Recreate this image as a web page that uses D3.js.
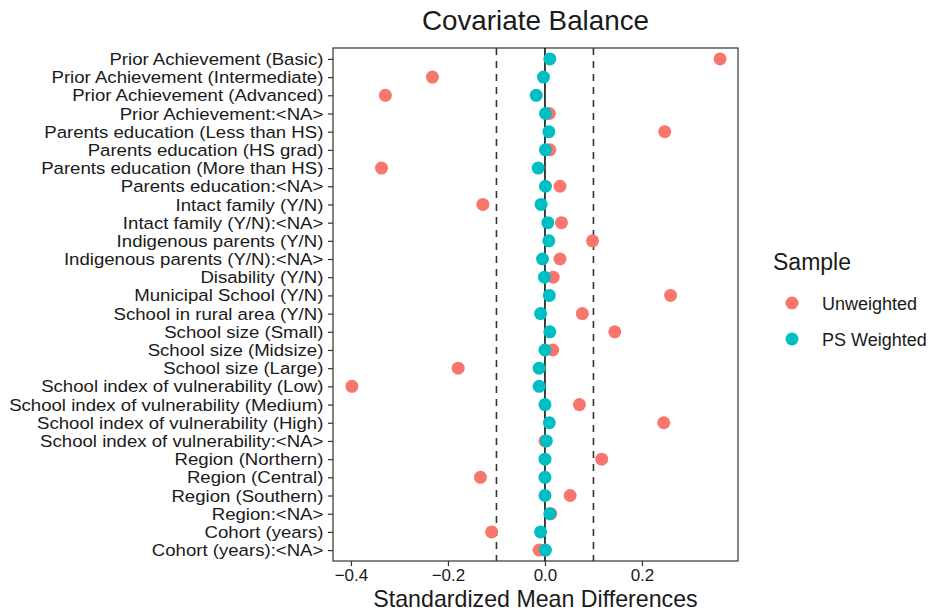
<!DOCTYPE html>
<html>
<head>
<meta charset="utf-8">
<script src="https://cdn.jsdelivr.net/npm/d3@7"></script>
<style>
  body { margin: 0; background: #fff; }
  text { font-family: "Liberation Sans", Arial, sans-serif; fill: #1a1a1a; }
</style>
</head>
<body>
<div id="chart"></div>
<script>
// covariates, top to bottom
const covariates = [
  "Prior Achievement (Basic)",
  "Prior Achievement (Intermediate)",
  "Prior Achievement (Advanced)",
  "Prior Achievement:<NA>",
  "Parents education (Less than HS)",
  "Parents education (HS grad)",
  "Parents education (More than HS)",
  "Parents education:<NA>",
  "Intact family (Y/N)",
  "Intact family (Y/N):<NA>",
  "Indigenous parents (Y/N)",
  "Indigenous parents (Y/N):<NA>",
  "Disability (Y/N)",
  "Municipal School (Y/N)",
  "School in rural area (Y/N)",
  "School size (Small)",
  "School size (Midsize)",
  "School size (Large)",
  "School index of vulnerability (Low)",
  "School index of vulnerability (Medium)",
  "School index of vulnerability (High)",
  "School index of vulnerability:<NA>",
  "Region (Northern)",
  "Region (Central)",
  "Region (Southern)",
  "Region:<NA>",
  "Cohort (years)",
  "Cohort (years):<NA>"
];

const unweighted = [0.361, -0.232, -0.329, 0.009, 0.247, 0.010, -0.337, 0.031,
  -0.128, 0.034, 0.098, 0.031, 0.017, 0.259, 0.077, 0.144, 0.016, -0.179,
  -0.398, 0.071, 0.245, 0.000, 0.117, -0.133, 0.052, 0.012, -0.110, -0.012];

const weighted = [0.010, -0.003, -0.018, 0.001, 0.008, 0.001, -0.014, 0.001,
  -0.008, 0.006, 0.008, -0.005, -0.001, 0.009, -0.009, 0.010, 0.000, -0.012,
  -0.012, 0.000, 0.009, 0.003, 0.000, 0.000, 0.000, 0.010, -0.009, 0.001];

const xTicks = [-0.4, -0.2, 0.0, 0.2];
const thresholds = [-0.1, 0.1];
const samples = ["Unweighted", "PS Weighted"];
const colors = ["#F8766D", "#00BFC4"];

const W = 937, H = 615;
const panel = { left: 333, right: 738, top: 48, bottom: 561 };

const svg = d3.select("#chart").append("svg")
  .attr("width", W).attr("height", H);

const x = d3.scaleLinear().domain([-0.437, 0.398]).range([panel.left, panel.right]);
const y = d3.scalePoint().domain(covariates).range([panel.top, panel.bottom]).padding(0.6);
const color = d3.scaleOrdinal().domain(samples).range(colors);

// panel background + border
svg.append("rect")
  .attr("x", panel.left).attr("y", panel.top)
  .attr("width", panel.right - panel.left)
  .attr("height", panel.bottom - panel.top)
  .attr("fill", "#fff")
  .attr("stroke", "#333").attr("stroke-width", 1.2);

// dashed threshold lines
svg.selectAll("line.thr")
  .data(thresholds)
  .enter().append("line")
  .attr("class", "thr")
  .attr("x1", d => x(d)).attr("x2", d => x(d))
  .attr("y1", panel.top).attr("y2", panel.bottom)
  .attr("stroke", "#333").attr("stroke-width", 1.6)
  .attr("stroke-dasharray", "7,6");

// zero line
svg.append("line")
  .attr("x1", x(0)).attr("x2", x(0))
  .attr("y1", panel.top).attr("y2", panel.bottom)
  .attr("stroke", "#111").attr("stroke-width", 1.6);

// points: unweighted first, weighted on top
const series = [
  { name: "Unweighted", values: unweighted },
  { name: "PS Weighted", values: weighted }
];
series.forEach(s => {
  svg.append("g").selectAll("circle")
    .data(s.values)
    .enter().append("circle")
    .attr("cx", d => x(d))
    .attr("cy", (d, i) => y(covariates[i]))
    .attr("r", 6.5)
    .attr("fill", color(s.name));
});

// x axis
const xAxis = svg.append("g")
  .attr("transform", `translate(0,${panel.bottom})`)
  .call(d3.axisBottom(x).tickValues(xTicks).tickFormat(d3.format(".1f")).tickSize(5).tickPadding(3));
xAxis.select(".domain").remove();
xAxis.selectAll("line").attr("stroke", "#333").attr("stroke-width", 1.2);
xAxis.selectAll("text")
  .attr("font-size", "17px")
  .attr("fill", "#333")
  .style("font-family", "'Liberation Sans', Arial, sans-serif");

// y axis - labels a bit wide in the original, stretch slightly instead of growing the font
const yAxis = svg.append("g")
  .attr("transform", `translate(${panel.left},0)`)
  .call(d3.axisLeft(y).tickSize(5).tickPadding(4));
yAxis.select(".domain").remove();
yAxis.selectAll("line").attr("stroke", "#333").attr("stroke-width", 1.2);
yAxis.selectAll("text")
  .attr("font-size", "17.4px")
  .attr("fill", "#1a1a1a")
  .attr("transform", "scale(1.07,1)")
  .style("font-family", "'Liberation Sans', Arial, sans-serif");

// title and axis title
svg.append("text")
  .attr("x", (panel.left + panel.right) / 2)
  .attr("y", 30)
  .attr("text-anchor", "middle")
  .attr("font-size", "27.8px")
  .text("Covariate Balance");

svg.append("text")
  .attr("x", (panel.left + panel.right) / 2)
  .attr("y", 607)
  .attr("text-anchor", "middle")
  .attr("font-size", "23.2px")
  .text("Standardized Mean Differences");

// legend
const legend = svg.append("g").attr("transform", "translate(773,0)");
legend.append("text")
  .attr("x", 0).attr("y", 270)
  .attr("font-size", "23px")
  .text("Sample");

const items = legend.selectAll("g.item")
  .data(samples)
  .enter().append("g")
  .attr("class", "item")
  .attr("transform", (d, i) => `translate(0,${303 + i * 36})`);
items.append("circle")
  .attr("cx", 19).attr("cy", 0).attr("r", 6.5)
  .attr("fill", d => color(d));
items.append("text")
  .attr("x", 49).attr("y", 6.5)
  .attr("font-size", "18px")
  .text(d => d);
</script>
</body>
</html>
